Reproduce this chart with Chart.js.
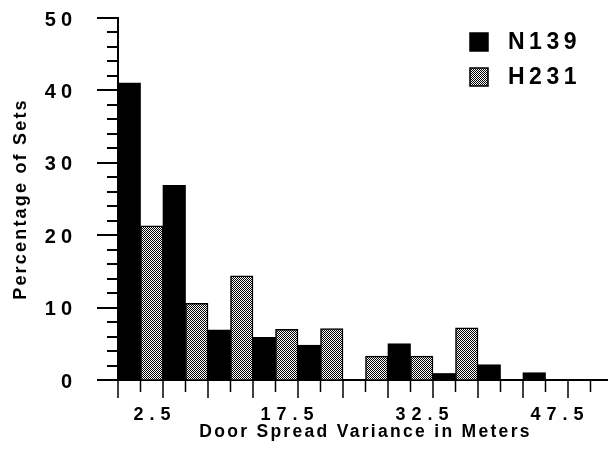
<!DOCTYPE html>
<html>
<head>
<meta charset="utf-8">
<script src="https://cdn.jsdelivr.net/npm/chart.js@4/dist/chart.umd.min.js"></script>
<style>
  html, body { margin: 0; padding: 0; background: #fff; overflow: hidden; }
  canvas { display: block; }
</style>
</head>
<body>
<canvas id="chart" width="620" height="450"></canvas>
<script>
// Door spread variance bins (metres, bin centres)
const bins = ['2.5', '7.5', '12.5', '17.5', '22.5', '27.5', '32.5', '37.5', '42.5', '47.5', '52.5'];
// Percentage of sets in each bin
const n139 = [41.0, 26.9, 6.9, 5.9, 4.8, 0, 5.0, 0.9, 2.1, 1.0, 0];
const h231 = [21.3, 10.6, 14.4, 7.0, 7.1, 3.3, 3.3, 7.2, 0, 0, 0];
// Labelled ticks on each axis
const xTickLabels = ['2.5', '17.5', '32.5', '47.5'];
const yTickLabels = [0, 10, 20, 30, 40, 50];

const FONT = '"Liberation Sans", Arial, Helvetica, sans-serif';

// Scales that draw their labels and titles with extra letter spacing
function spacedScale(Base, id) {
  return class extends Base {
    static id = id;
    static defaults = Base.defaults;
    drawLabels(area) {
      const c = this.ctx;
      c.save();
      c.letterSpacing = (this.options.ticks.spacing || 0) + 'px';
      super.drawLabels(area);
      c.restore();
    }
    drawTitle() {
      const c = this.ctx;
      c.save();
      c.letterSpacing = (this.options.title.spacing || 0) + 'px';
      super.drawTitle();
      c.restore();
    }
  };
}
const CatBase = Chart.CategoryScale || Chart.registry.getScale('category');
const LinBase = Chart.LinearScale || Chart.registry.getScale('linear');
Chart.register(spacedScale(CatBase, 'spacedCategory'), spacedScale(LinBase, 'spacedLinear'));

// Stippled fill for the second series
const canvas = document.getElementById('chart');
const ctx = canvas.getContext('2d');
const tile = document.createElement('canvas');
tile.width = 2; tile.height = 2;
const tctx = tile.getContext('2d');
tctx.fillStyle = '#ffffff';
tctx.fillRect(0, 0, 2, 2);
tctx.fillStyle = '#000000';
tctx.fillRect(0, 0, 1, 1);
tctx.fillRect(1, 1, 1, 1);
const stipple = ctx.createPattern(tile, 'repeat');

// Tick marks: long/short on both axes
const tickMarks = {
  id: 'tickMarks',
  afterDraw(chart) {
    const { x, y } = chart.scales;
    const c = chart.ctx;
    c.save();
    c.strokeStyle = '#000';
    c.lineCap = 'butt';
    c.lineWidth = 2;
    const left = chart.chartArea.left;
    for (let v = y.min; v <= y.max; v += 2) {
      const py = Math.round(y.getPixelForValue(v));
      const len = yTickLabels.includes(v) ? 21 : 11;
      c.beginPath();
      c.moveTo(left - len, py);
      c.lineTo(left, py);
      c.stroke();
    }
    c.lineWidth = 1.5;
    const base = chart.chartArea.bottom;
    for (let i = 0; i <= bins.length; i++) {
      // bin edge (long) and pair divider (short)
      const edge = x.getPixelForValue(i - 0.5);
      c.beginPath();
      c.moveTo(edge, base);
      c.lineTo(edge, base + 18);
      c.stroke();
      if (i < bins.length) {
        const mid = x.getPixelForValue(i);
        c.beginPath();
        c.moveTo(mid, base);
        c.lineTo(mid, base + 12);
        c.stroke();
      }
    }
    c.restore();
  }
};

// Legend inside the plot, upper right
const boxLegend = {
  id: 'boxLegend',
  afterDraw(chart) {
    const c = chart.ctx;
    const area = chart.chartArea;
    c.save();
    c.font = 'bold 23px ' + FONT;
    c.letterSpacing = '4.5px';
    c.textBaseline = 'middle';
    c.textAlign = 'left';
    chart.data.datasets.forEach((ds, i) => {
      const bx = area.right - 143;
      const by = area.top + 15 + i * 35;
      c.fillStyle = ds.backgroundColor;
      c.fillRect(bx, by, 18, 18);
      c.strokeStyle = '#000';
      c.lineWidth = 1.5;
      c.strokeRect(bx, by, 18, 18);
      c.fillStyle = '#000';
      c.fillText(ds.label, bx + 38, by + 10);
    });
    c.restore();
  }
};

new Chart(ctx, {
  type: 'bar',
  data: {
    labels: bins,
    datasets: [
      {
        label: 'N139',
        data: n139,
        backgroundColor: '#000000',
        borderWidth: 0
      },
      {
        label: 'H231',
        data: h231,
        backgroundColor: stipple,
        borderColor: '#000000',
        borderWidth: 1.5
      }
    ]
  },
  options: {
    responsive: false,
    animation: false,
    devicePixelRatio: 1,
    layout: { padding: { top: 18, right: 7, left: 0, bottom: 0 } },
    datasets: {
      bar: { categoryPercentage: 1, barPercentage: 1 }
    },
    plugins: {
      legend: { display: false },
      tooltip: { enabled: false }
    },
    scales: {
      x: {
        type: 'spacedCategory',
        offset: true,
        grid: {
          offset: true,
          drawOnChartArea: false,
          tickLength: 17,
          tickColor: 'rgba(0,0,0,0)'
        },
        border: { color: '#000', width: 2 },
        ticks: {
          autoSkip: false,
          maxRotation: 0,
          padding: 7,
          labelOffset: 14.5,
          spacing: 6,
          color: '#000',
          font: { family: FONT, size: 18, weight: 'bold' },
          callback: (v, i) => xTickLabels.includes(bins[i]) ? bins[i] : ''
        },
        title: {
          display: true,
          text: 'Door Spread Variance in Meters',
          color: '#000',
          spacing: 2.3,
          padding: { top: 0, bottom: 7 },
          font: { family: FONT, size: 17.5, weight: 'bold' }
        },
        afterFit: (s) => { s.height = 70; s.paddingLeft = 0; s.paddingRight = 0; }
      },
      y: {
        type: 'spacedLinear',
        min: 0,
        max: 50,
        grid: {
          drawOnChartArea: false,
          tickLength: 20,
          tickColor: 'rgba(0,0,0,0)'
        },
        border: { color: '#000', width: 2 },
        ticks: {
          stepSize: 2,
          autoSkip: false,
          padding: 21,
          labelOffset: 2,
          spacing: 5,
          color: '#000',
          font: { family: FONT, size: 20, weight: 'bold' },
          callback: (v) => yTickLabels.includes(v) ? String(v) : ''
        },
        title: {
          display: true,
          text: 'Percentage of Sets',
          color: '#000',
          spacing: 2.2,
          padding: { top: 10, bottom: 0 },
          font: { family: FONT, size: 18, weight: 'bold' }
        },
        afterFit: (s) => { s.width = 118; s.paddingTop = 0; s.paddingBottom = 0; }
      }
    }
  },
  plugins: [tickMarks, boxLegend]
});
</script>
</body>
</html>
